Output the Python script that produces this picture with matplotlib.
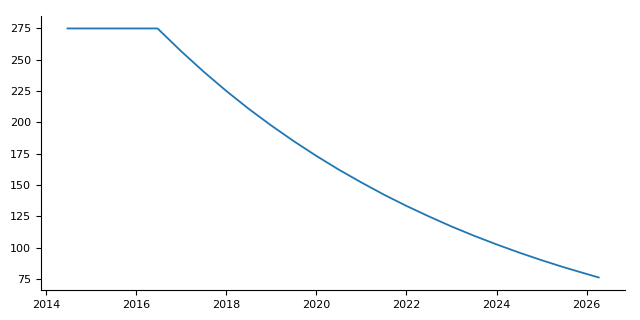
import matplotlib
matplotlib.use('Agg')
import matplotlib.pyplot as plt

# values
years = [2014.47, 2015.0, 2015.5, 2016.0, 2016.47,
         2017.0, 2017.5, 2018.0, 2018.5, 2019.0, 2019.5,
         2020.0, 2020.5, 2021.0, 2021.5, 2022.0, 2022.5,
         2023.0, 2023.5, 2024.0, 2024.5, 2025.0, 2025.5,
         2026.0, 2026.27]
values = [275, 275, 275, 275, 275,
          256.6, 240.3, 225.0, 210.7, 197.4, 184.9,
          173.2, 162.2, 152.0, 142.3, 133.3, 124.9,
          116.9, 109.5, 102.6, 96.1, 90.0, 84.3,
          79.0, 76.2]

fig, ax = plt.subplots(figsize=(6.4, 3.2), dpi=100)
fig.subplots_adjust(left=0.064, right=0.977, top=0.95, bottom=0.094)

ax.plot(years, values, color='#1f77b4', linewidth=1.3)

ax.spines['top'].set_visible(False)
ax.spines['right'].set_visible(False)
ax.set_xticks([2014, 2016, 2018, 2020, 2022, 2024, 2026])
ax.set_yticks([75, 100, 125, 150, 175, 200, 225, 250, 275])
ax.tick_params(labelsize=8)

fig.savefig('out.png')
